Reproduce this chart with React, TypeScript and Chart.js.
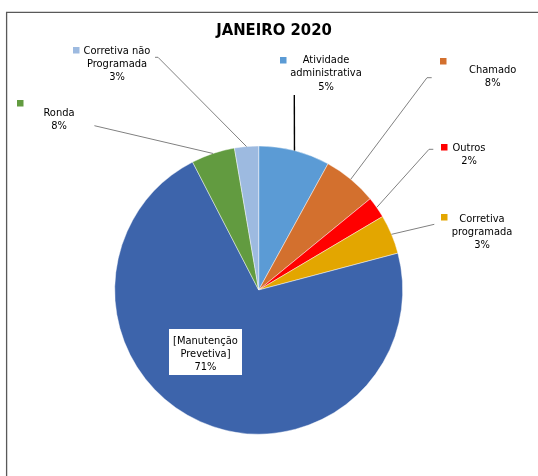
import React, { useEffect, useRef } from "react";
import { Chart, registerables } from "chart.js";

Chart.register(...registerables);

const title = "JANEIRO 2020";
const categories = [
  "Atividade\nadministrativa",
  "Chamado",
  "Outros",
  "Corretiva\nprogramada",
  "[Manutenção\nPrevetiva]",
  "Ronda",
  "Corretiva não\nProgramada",
];
const values = [8.0, 6.1, 2.4, 4.4, 71.6, 4.9, 2.7];
const percentLabels = ["5%", "8%", "2%", "3%", "71%", "8%", "3%"];
const colors = ["#5B9BD5", "#D3702E", "#FF0000", "#E3A600", "#3D64AB", "#629B40", "#9DBAE0"];

const FONT = "'DejaVu Sans Condensed', 'DejaVu Sans', sans-serif";

type Layout = {
  sq?: [number, number];
  cx: number;
  y0: number;
  leader?: [number, number][];
  leaderColor?: string;
  leaderWidth?: number;
  box?: [number, number, number, number];
};

const layouts: Layout[] = [
  { sq: [280, 57], cx: 326, y0: 60.3, leader: [[294.3, 95]], leaderColor: "#000000", leaderWidth: 1.4 },
  { sq: [440, 58], cx: 492.7, y0: 70.3, leader: [[431.7, 77.7], [427, 77.7]] },
  { sq: [441, 144], cx: 469, y0: 147.7, leader: [[433.3, 149.3], [429, 149.3]] },
  { sq: [441, 214], cx: 482, y0: 218.7, leader: [[434.3, 224.3]] },
  { cx: 205.5, y0: 340.7, box: [169, 329, 73, 46] },
  { sq: [17, 100], cx: 59, y0: 113, leader: [[94.4, 125.7]] },
  { sq: [73, 47], cx: 117, y0: 50.7, leader: [[155, 57.3], [158, 57.3]] },
];

const decorPlugin = {
  id: "decor",
  beforeDraw(chart: any) {
    const ctx = chart.ctx;
    ctx.save();
    ctx.strokeStyle = "#595959";
    ctx.lineWidth = 1.3;
    ctx.beginPath();
    ctx.moveTo(6.6, 476);
    ctx.lineTo(6.6, 12.3);
    ctx.lineTo(538, 12.3);
    ctx.stroke();
    ctx.restore();
  },
  afterDraw(chart: any) {
    const ctx = chart.ctx;
    const meta = chart.getDatasetMeta(0);
    ctx.save();
    // title
    ctx.fillStyle = "#000";
    ctx.font = `bold 16.5px ${FONT}`;
    ctx.textAlign = "center";
    ctx.textBaseline = "middle";
    ctx.fillText(title, 274, 31);

    meta.data.forEach((arc: any, i: number) => {
      const L = layouts[i];
      const p = arc.getProps(["x", "y", "startAngle", "endAngle", "outerRadius"], true);
      const mid = (p.startAngle + p.endAngle) / 2;
      const ex = p.x + Math.cos(mid) * p.outerRadius;
      const ey = p.y + Math.sin(mid) * p.outerRadius;
      if (L.leader) {
        ctx.strokeStyle = L.leaderColor || "#808080";
        ctx.lineWidth = L.leaderWidth || 1;
        ctx.beginPath();
        L.leader.forEach((pt, k) => (k === 0 ? ctx.moveTo(pt[0], pt[1]) : ctx.lineTo(pt[0], pt[1])));
        ctx.lineTo(ex, ey);
        ctx.stroke();
      }
      if (L.box) {
        ctx.fillStyle = "#ffffff";
        ctx.fillRect(L.box[0], L.box[1], L.box[2], L.box[3]);
      }
      if (L.sq) {
        ctx.fillStyle = colors[i];
        ctx.fillRect(L.sq[0], L.sq[1], 6.5, 6.5);
      }
      const lines = categories[i].split("\n").concat([percentLabels[i]]);
      ctx.fillStyle = "#000";
      ctx.font = `11px ${FONT}`;
      ctx.textAlign = "center";
      ctx.textBaseline = "middle";
      lines.forEach((t, k) => ctx.fillText(t, L.cx, L.y0 + k * 13.3));
    });
    ctx.restore();
  },
};

export default function App() {
  const ref = useRef<HTMLCanvasElement | null>(null);
  useEffect(() => {
    if (!ref.current) return;
    const chart = new Chart(ref.current, {
      type: "pie",
      data: {
        labels: categories.map((c) => c.replace("\n", " ")),
        datasets: [
          {
            data: values,
            backgroundColor: colors,
            borderColor: "rgba(255,255,255,0.55)",
            borderWidth: 0.8,
            radius: 144,
          } as any,
        ],
      },
      options: {
        responsive: false,
        animation: false,
        layout: { padding: { left: 0, right: 20.6, top: 104, bottom: 0 } },
        plugins: {
          legend: { display: false },
          tooltip: { enabled: false },
          title: { display: false },
        },
      },
      plugins: [decorPlugin],
    });
    return () => chart.destroy();
  }, []);
  return (
    <div style={{ position: "absolute", left: 0, top: 0, width: 538, height: 476, background: "#fff" }}>
      <canvas ref={ref} width={538} height={476} style={{ width: 538, height: 476, display: "block" }} />
    </div>
  );
}
